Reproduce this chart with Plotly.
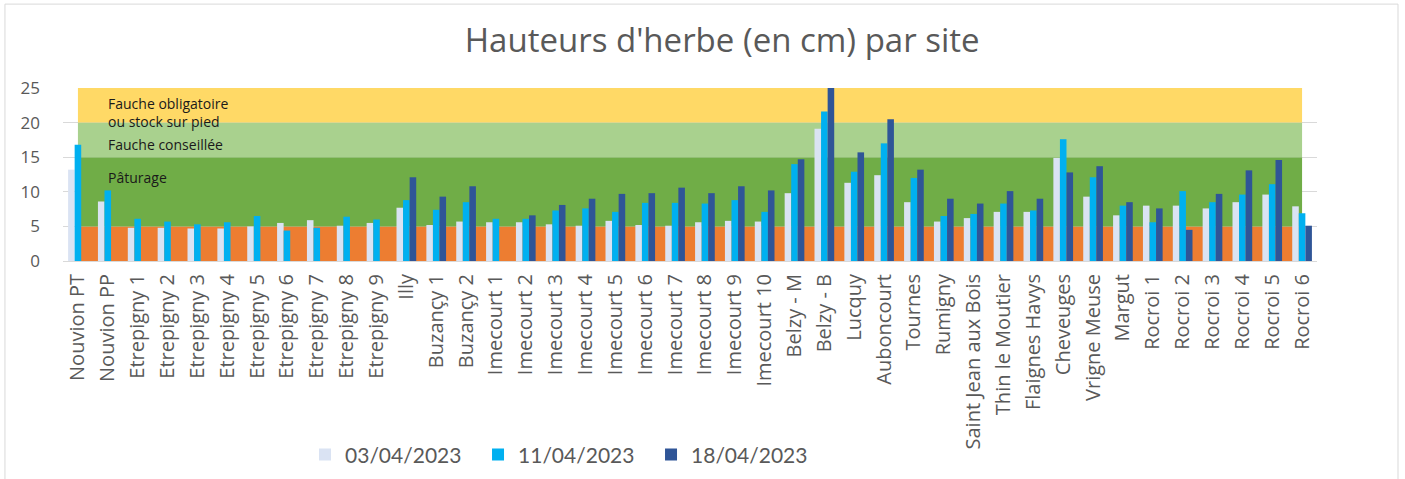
import plotly.graph_objects as go

categories = ["Nouvion PT", "Nouvion PP", "Etrepigny 1", "Etrepigny 2", "Etrepigny 3", "Etrepigny 4",
              "Etrepigny 5", "Etrepigny 6", "Etrepigny 7", "Etrepigny 8", "Etrepigny 9", "Illy",
              "Buzançy 1", "Buzançy 2", "Imecourt 1", "Imecourt 2", "Imecourt 3", "Imecourt 4",
              "Imecourt 5", "Imecourt 6", "Imecourt 7", "Imecourt 8", "Imecourt 9", "Imecourt 10",
              "Belzy - M", "Belzy - B", "Lucquy", "Auboncourt", "Tournes", "Rumigny",
              "Saint Jean aux Bois", "Thin le Moutier", "Flaignes Havys", "Cheveuges", "Vrigne Meuse",
              "Margut", "Rocroi 1", "Rocroi 2", "Rocroi 3", "Rocroi 4", "Rocroi 5", "Rocroi 6"]

h_0304 = [13.2, 8.6, 4.8, 4.8, 4.7, 4.7, 5.0, 5.5, 5.9, 5.1, 5.5, 7.7,
          5.2, 5.7, 5.6, 5.6, 5.3, 5.1, 5.8, 5.2, 5.1, 5.6, 5.8, 5.7,
          9.8, 19.1, 11.3, 12.4, 8.5, 5.7, 6.2, 7.1, 7.1, 14.9, 9.3,
          6.6, 8.0, 8.0, 7.6, 8.5, 9.6, 7.9]
h_1104 = [16.8, 10.2, 6.1, 5.7, 5.3, 5.6, 6.5, 4.4, 4.8, 6.4, 6.0, 8.8,
          7.4, 8.5, 6.1, 6.1, 7.3, 7.6, 7.1, 8.4, 8.4, 8.3, 8.8, 7.1,
          14.0, 21.6, 12.9, 17.0, 12.0, 6.5, 6.8, 8.3, 7.3, 17.6, 12.1,
          8.0, 5.6, 10.1, 8.5, 9.6, 11.1, 6.9]
h_1804 = [None, None, None, None, None, None, None, None, None, None, None, 12.1,
          9.3, 10.8, None, 6.6, 8.1, 9.0, 9.7, 9.8, 10.6, 9.8, 10.8, 10.2,
          14.7, 25.5, 15.7, 20.5, 13.2, 9.0, 8.3, 10.1, 9.0, 12.8, 13.7,
          8.5, 7.6, 4.5, 9.7, 13.1, 14.6, 5.1]

series_names = ["03/04/2023", "11/04/2023", "18/04/2023"]
series_colors = ["#DAE3F3", "#00B0F0", "#2F5597"]

band_edges = [0, 5, 15, 20, 25]
band_colors = ["#ED7D31", "#70AD47", "#A9D18E", "#FFD966"]
band_labels = [("Pâturage", 12.1), ("Fauche conseillée", 16.8),
               ("Fauche obligatoire<br>ou stock sur pied", 21.4)]

fig = go.Figure()
for name, vals, col in zip(series_names, [h_0304, h_1104, h_1804], series_colors):
    fig.add_trace(go.Bar(x=categories, y=vals, name=name, marker=dict(color=col, line=dict(width=0))))

n = len(categories)
for i, col in enumerate(band_colors):
    fig.add_shape(type="rect", xref="x", yref="y", x0=0, x1=n - 1,
                  y0=band_edges[i], y1=band_edges[i + 1],
                  fillcolor=col, line=dict(width=0), layer="between")

for txt, yv in band_labels:
    fig.add_annotation(x=0.95, y=yv, xref="x", yref="y", text=txt, showarrow=False,
                       xanchor="left", yanchor="middle", align="left",
                       font=dict(family="Open Sans", size=14, color="#1a1a1a"))

# outer frame
fig.add_shape(type="rect", xref="paper", yref="paper", x0=-0.0463, x1=1.0646, y0=-1.3, y1=1.485,
              line=dict(color="#D9D9D9", width=1), fillcolor="rgba(0,0,0,0)", layer="above")

fig.update_layout(
    width=1405, height=479,
    margin=dict(l=63, r=88, t=88, b=218, autoexpand=False),
    paper_bgcolor="white", plot_bgcolor="white",
    barmode="group", bargap=0.34, bargroupgap=0,
    title=dict(text="Hauteurs d'herbe (en cm) par site", x=0.514, xanchor="center",
               y=0.916, yanchor="middle",
               font=dict(family="Open Sans", size=33, color="#595959")),
    legend=dict(orientation="h", x=0.193, xanchor="left", y=-1.12, yanchor="middle",
                font=dict(family="Lato", size=21, color="#595959"),
                entrywidth=128, entrywidthmode="pixels", itemwidth=30,
                bgcolor="rgba(0,0,0,0)"),
    showlegend=True,
)
fig.update_xaxes(type="category", tickangle=-90, showgrid=False, showline=True,
                 linecolor="#D9D9D9", linewidth=1, ticks="", ticklabelstandoff=4,
                 tickfont=dict(family="Open Sans", size=20, color="#595959"),
                 range=[-0.5, n - 0.5])
fig.update_yaxes(range=[0, 25], tickvals=[0, 5, 10, 15, 20, 25], showgrid=True,
                 gridcolor="#D9D9D9", gridwidth=1, zeroline=False, showline=False, ticks="",
                 ticklabelstandoff=22,
                 tickfont=dict(family="Open Sans", size=17, color="#595959"))

fig.write_html("out.html", config={"displayModeBar": False},
               post_script="document.body.style.margin='0';document.body.style.overflow='hidden';")
